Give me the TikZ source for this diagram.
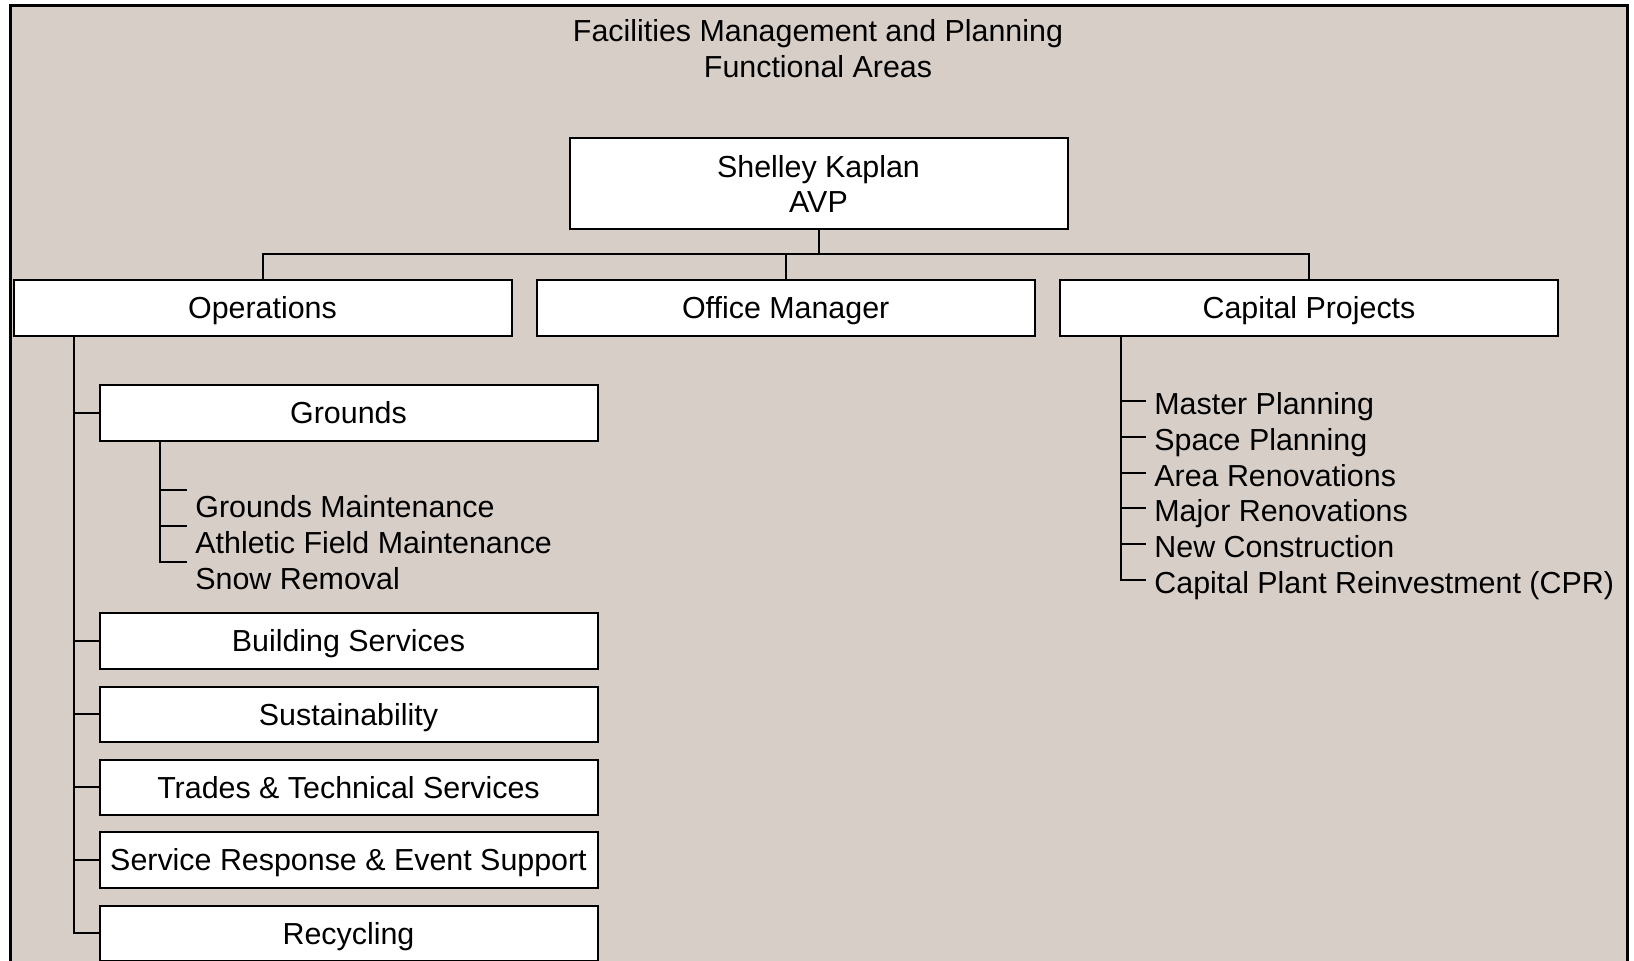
\documentclass[tikz,border=0pt]{standalone}
\usepackage{fontspec}
\setmainfont{Liberation Sans}
\definecolor{panel}{RGB}{215,206,200}

\begin{document}
\begin{tikzpicture}[x=0.5pt, y=-0.5pt, font=\fontsize{15.2}{17.9}\selectfont]

    % estilos
    \tikzstyle{unit}=[draw, fill=white, line width=1pt, minimum width=249pt, minimum height=27.75pt, inner sep=0pt, text height=14pt, text depth=3pt]
    \tikzstyle{head}=[draw, fill=white, line width=1pt, minimum width=249pt, minimum height=45.5pt, inner sep=0pt, align=center]
    \tikzstyle{conn}=[line width=1pt]
    \tikzstyle{subitem}=[anchor=north west, inner xsep=4pt, inner ysep=0pt, text height=13.5pt, text depth=3pt]
    \tikzstyle{listitem}=[anchor=west, inner xsep=4pt, inner ysep=0pt, text height=15.2pt, text depth=1.8pt]

    % fundo e moldura
    \useasboundingbox (0,0) rectangle (1634,961);
    \fill[white] (0,0) rectangle (1634,961);
    \draw[fill=panel, line width=1.5pt] (10,6) rectangle (1627,990);

    % titulo
    \node[align=center] (title) at (818,49) {Facilities Management and Planning\\Functional Areas};

    % chefia
    \node[head] (avp) at (818.5,184) {Shelley Kaplan\\AVP};

    % areas
    \node[unit] (ops) at (262.5,308) {Operations};
    \node[unit] (office) at (785.7,308) {Office Manager};
    \node[unit] (capital) at (1309,308) {Capital Projects};

    % unidades de operacoes
    \node[unit] (grounds) at (348.5,413) {Grounds};
    \node[unit] (bldg) at (348.5,641) {Building Services};
    \node[unit] (sust) at (348.5,714.5) {Sustainability};
    \node[unit] (trades) at (348.5,787.5) {Trades \& Technical Services};
    \node[unit] (service) at (348.5,860) {Service Response \& Event Support};
    \node[unit] (recyc) at (348.5,933.5) {Recycling};

    % itens de grounds
    \node[subitem] (gm) at (187,490) {Grounds Maintenance};
    \node[subitem] (afm) at (187,526) {Athletic Field Maintenance};
    \node[subitem] (snow) at (187,562) {Snow Removal};

    % itens de capital projects
    \node[listitem] (mp) at (1146,401) {Master Planning};
    \node[listitem] (sp) at (1146,437) {Space Planning};
    \node[listitem] (ar) at (1146,473) {Area Renovations};
    \node[listitem] (mr) at (1146,508.5) {Major Renovations};
    \node[listitem] (nc) at (1146,544) {New Construction};
    \node[listitem] (cpr) at (1146,580) {Capital Plant Reinvestment (CPR)};

    % ligacoes do topo
    \coordinate (bus) at (818.5,254);
    \draw[conn] (avp.south) -- (bus);
    \draw[conn] (ops.north) -- (ops.north |- bus) -| (capital.north);
    \draw[conn] (office.north) -- (office.north |- bus);

    % tronco de operacoes
    \coordinate (opstrunk) at ([xshift=30.75pt]ops.south west);
    \draw[conn] (opstrunk) |- (recyc.west);
    \foreach \b in {grounds,bldg,sust,trades,service}
        \draw[conn] (opstrunk |- \b.west) -- (\b.west);

    % tronco de grounds
    \coordinate (gtrunk) at ([xshift=30.75pt]grounds.south west);
    \draw[conn] (gtrunk) |- (snow.north west);
    \foreach \i in {gm,afm}
        \draw[conn] (gtrunk |- \i.north west) -- (\i.north west);

    % tronco de capital projects
    \coordinate (ctrunk) at ([xshift=30.75pt]capital.south west);
    \draw[conn] (ctrunk) |- (cpr.west);
    \foreach \i in {mp,sp,ar,mr,nc}
        \draw[conn] (ctrunk |- \i.west) -- (\i.west);

\end{tikzpicture}
\end{document}
